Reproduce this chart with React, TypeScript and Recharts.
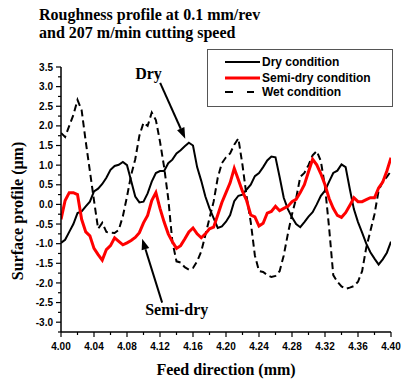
import React from "react";
import { LineChart, Line, XAxis, YAxis, Legend, ReferenceLine } from "recharts";

// Feed direction (mm)
const feed = [
  4.000, 4.005, 4.010, 4.015, 4.020, 4.025, 4.030, 4.035, 4.040, 4.045,
  4.050, 4.055, 4.060, 4.065, 4.070, 4.075, 4.080, 4.085, 4.090, 4.095,
  4.100, 4.105, 4.110, 4.115, 4.120, 4.125, 4.130, 4.135, 4.140, 4.145,
  4.150, 4.155, 4.160, 4.165, 4.170, 4.175, 4.180, 4.185, 4.190, 4.195,
  4.200, 4.205, 4.210, 4.215, 4.220, 4.225, 4.230, 4.235, 4.240, 4.245,
  4.250, 4.255, 4.260, 4.265, 4.270, 4.275, 4.280, 4.285, 4.290, 4.295,
  4.300, 4.305, 4.310, 4.315, 4.320, 4.325, 4.330, 4.335, 4.340, 4.345,
  4.350, 4.355, 4.360, 4.365, 4.370, 4.375, 4.380, 4.385, 4.390, 4.395,
  4.400,
];

const dry = [
  -0.98, -0.90, -0.70, -0.50, -0.22, -0.18, -0.05, 0.07, 0.33, 0.40,
  0.52, 0.68, 0.88, 0.98, 1.01, 1.08, 1.00, 0.60, 0.20, 0.05,
  0.07, 0.28, 0.58, 0.80, 0.85, 0.85, 1.05, 1.14, 1.30, 1.38,
  1.48, 1.57, 1.50, 0.95, 0.60, 0.20, -0.10, -0.35, -0.60, -0.56,
  -0.44, -0.27, 0.08, 0.22, 0.25, 0.38, 0.50, 0.72, 0.80, 0.95,
  1.12, 1.22, 1.20, 0.70, 0.17, -0.12, -0.33, -0.50, -0.58, -0.45,
  -0.31, -0.20, 0.00, 0.22, 0.35, 0.58, 0.80, 0.86, 1.02, 0.95,
  0.40, -0.12, -0.45, -0.72, -1.00, -1.22, -1.38, -1.53, -1.40, -1.23,
  -0.95,
];

const semiDry = [
  -0.38, 0.10, 0.30, 0.30, 0.25, -0.38, -0.70, -0.80, -1.12, -1.28,
  -1.42, -1.15, -1.05, -0.85, -0.94, -1.03, -0.98, -0.92, -0.84, -0.72,
  -0.47, -0.28, 0.10, 0.30, -0.10, -0.45, -0.75, -0.95, -1.12, -1.05,
  -0.88, -0.70, -0.60, -0.75, -0.85, -0.75, -0.62, -0.58, -0.27, 0.05,
  0.30, 0.55, 0.92, 0.63, 0.33, 0.10, -0.27, -0.32, -0.55, -0.48,
  -0.22, -0.18, -0.05, -0.16, -0.10, -0.05, 0.07, 0.13, 0.30, 0.50,
  0.83, 1.15, 1.01, 0.78, 0.50, 0.15, -0.10, -0.28, -0.33, -0.21,
  -0.03, 0.17, 0.07, 0.07, 0.12, 0.17, 0.17, 0.42, 0.57, 0.85,
  1.19,
];

const wet = [
  1.82, 1.72, 2.00, 2.28, 2.66, 2.40, 1.60, 0.85, 0.10, -0.62,
  -0.47, -0.70, -0.72, -0.73, -0.65, -0.30, 0.20, 0.75, 1.15, 1.75,
  2.08, 2.00, 2.34, 2.15, 1.60, 0.95, 0.15, -0.95, -1.45, -1.48,
  -1.60, -1.66, -1.62, -1.45, -1.20, -0.78, -0.35, 0.07, 0.68, 1.05,
  1.20, 1.30, 1.52, 1.68, 1.00, 0.20, -0.45, -1.30, -1.70, -1.72,
  -1.80, -1.85, -1.82, -1.70, -1.30, -0.75, -0.25, 0.15, 0.70, 0.80,
  1.00, 1.25, 1.36, 1.10, 0.45, -0.60, -1.80, -1.97, -2.09, -2.15,
  -2.12, -2.08, -1.97, -1.70, -1.10, -0.68, -0.25, 0.35, 0.58, 0.70,
  0.85,
];

const xTicks = [
  4.0, 4.02, 4.04, 4.06, 4.08, 4.1, 4.12, 4.14, 4.16, 4.18, 4.2,
  4.22, 4.24, 4.26, 4.28, 4.3, 4.32, 4.34, 4.36, 4.38, 4.4,
];
const xLabelTicks = [4.0, 4.04, 4.08, 4.12, 4.16, 4.2, 4.24, 4.28, 4.32, 4.36, 4.4];

const yTicks = [
  -3.25, -3.0, -2.75, -2.5, -2.25, -2.0, -1.75, -1.5, -1.25, -1.0, -0.75, -0.5, -0.25,
  0.0, 0.25, 0.5, 0.75, 1.0, 1.25, 1.5, 1.75, 2.0, 2.25, 2.5, 2.75, 3.0, 3.25, 3.5,
];
const yLabelTicks = [
  -3.0, -2.5, -2.0, -1.5, -1.0, -0.5, 0.0, 0.5, 1.0, 1.5, 2.0, 2.5, 3.0, 3.5,
];

const seriesNames = ["Dry condition", "Semi-dry condition", "Wet condition"];

const data = feed.map((x, i) => ({
  x,
  dry: dry[i],
  semiDry: semiDry[i],
  wet: wet[i],
}));

const SANS = "'Liberation Sans', Arial, sans-serif";
const SERIF = "'Liberation Serif', 'Times New Roman', serif";

const near = (v: number, list: number[]) => list.some((t) => Math.abs(t - v) < 1e-6);

const YTick = (props: any) => {
  const { x, y, payload } = props;
  const v = payload.value as number;
  const major = near(v, yLabelTicks);
  return (
    <g>
      <line x1={x} x2={x - (major ? 5 : 3)} y1={y} y2={y} stroke="#000" strokeWidth={1.2} />
      {major && (
        <text x={x - 8} y={y + 3.6} textAnchor="end" fontFamily={SANS} fontWeight="bold" fontSize={10} fill="#000">
          {v.toFixed(1)}
        </text>
      )}
    </g>
  );
};

const XTick = (props: any) => {
  const { x, y, payload } = props;
  const v = payload.value as number;
  const major = near(v, xLabelTicks);
  return (
    <g>
      <line x1={x} x2={x} y1={y} y2={y + (major ? 5 : 3)} stroke="#000" strokeWidth={1.2} />
      {major && (
        <text x={x} y={y + 17.5} textAnchor="middle" fontFamily={SANS} fontWeight="bold" fontSize={10} fill="#000">
          {v.toFixed(2)}
        </text>
      )}
    </g>
  );
};

const makeArrow = (label: string, dx: number, dy: number) => (p: any) => {
  const { x1, y1, x2, y2 } = p;
  const ang = Math.atan2(y2 - y1, x2 - x1);
  const L = 11;
  const W = 4;
  const bx = x2 - L * Math.cos(ang);
  const by = y2 - L * Math.sin(ang);
  const pts = `${x2},${y2} ${bx - W * Math.sin(ang)},${by + W * Math.cos(ang)} ${bx + W * Math.sin(ang)},${by - W * Math.cos(ang)}`;
  return (
    <g>
      <line x1={x1} y1={y1} x2={bx} y2={by} stroke="#000" strokeWidth={2} />
      <polygon points={pts} fill="#000" />
      <text x={x1 + dx} y={y1 + dy} fontFamily={SERIF} fontWeight="bold" fontSize={16} fill="#000">
        {label}
      </text>
    </g>
  );
};

const DryArrow = makeArrow("Dry", -25, -4);
const SemiArrow = makeArrow("Semi-dry", -17, 12);

const LegendBox = () => {
  const rows = [
    { y: 13, text: seriesNames[0], color: "#000", w: 2, dash: false },
    { y: 29, text: seriesNames[1], color: "#ff0000", w: 3, dash: false },
    { y: 43, text: seriesNames[2], color: "#000", w: 2, dash: true },
  ];
  return (
    <svg width={186} height={58} style={{ display: "block" }}>
      <rect x={0.5} y={0.5} width={185} height={57} fill="#fff" stroke="#555" strokeWidth={1} />
      {rows.map((r, i) => (
        <g key={i}>
          {r.dash ? (
            <>
              <line x1={18} x2={26} y1={r.y} y2={r.y} stroke={r.color} strokeWidth={r.w} />
              <line x1={40} x2={47} y1={r.y} y2={r.y} stroke={r.color} strokeWidth={r.w} />
            </>
          ) : (
            <line x1={18} x2={53} y1={r.y} y2={r.y} stroke={r.color} strokeWidth={r.w} />
          )}
          <text x={55} y={r.y + 4} fontFamily={SANS} fontWeight="bold" fontSize={12} fill="#000">
            {r.text}
          </text>
        </g>
      ))}
    </svg>
  );
};

export default function App() {
  return (
    <div style={{ position: "absolute", left: 0, top: 0, width: 401, height: 380, background: "#fff" }}>
      <LineChart width={401} height={380} data={data} margin={{ top: 67, right: 10, left: 0, bottom: 0 }}>
        <XAxis
          dataKey="x"
          type="number"
          domain={[4.0, 4.4]}
          ticks={xTicks}
          tick={<XTick />}
          tickLine={false}
          tickSize={0}
          tickMargin={0}
          interval={0}
          height={48}
          axisLine={{ stroke: "#000", strokeWidth: 1.5 }}
          allowDataOverflow
        />
        <YAxis
          type="number"
          domain={[-3.25, 3.5]}
          ticks={yTicks}
          tick={<YTick />}
          tickLine={false}
          tickSize={0}
          tickMargin={0}
          interval={0}
          width={61}
          axisLine={{ stroke: "#000", strokeWidth: 1.5 }}
          allowDataOverflow
        />
        <Legend
          verticalAlign="middle"
          content={() => <LegendBox />}
          wrapperStyle={{ position: "absolute", left: 207, top: 49, width: 186, height: 58 }}
        />
        <Line dataKey="wet" name={seriesNames[2]} stroke="#000" strokeWidth={2} strokeDasharray="7 4" dot={false} type="linear" isAnimationActive={false} />
        <Line dataKey="dry" name={seriesNames[0]} stroke="#000" strokeWidth={2} dot={false} type="linear" isAnimationActive={false} />
        <Line dataKey="semiDry" name={seriesNames[1]} stroke="#ff0000" strokeWidth={3} dot={false} type="linear" isAnimationActive={false} />
        <ReferenceLine segment={[{ x: 4.1202, y: 3.097 }, { x: 4.1506, y: 1.672 }]} ifOverflow="visible" shape={DryArrow} />
        <ReferenceLine segment={[{ x: 4.1226, y: -2.501 }, { x: 4.0984, y: -0.873 }]} ifOverflow="visible" shape={SemiArrow} />
      </LineChart>
      <svg width={401} height={380} style={{ position: "absolute", left: 0, top: 0, pointerEvents: "none" }}>
        <text x={39} y={20} fontFamily={SERIF} fontWeight="bold" fontSize={16} fill="#000">
          Roughness profile at 0.1 mm/rev
        </text>
        <text x={39} y={38} fontFamily={SERIF} fontWeight="bold" fontSize={16} fill="#000">
          and 207 m/min cutting speed
        </text>
        <text x={226} y={375} textAnchor="middle" fontFamily={SERIF} fontWeight="bold" fontSize={16} fill="#000">
          Feed direction (mm)
        </text>
        <text x={23} y={211} textAnchor="middle" transform="rotate(-90 23 211)" fontFamily={SERIF} fontWeight="bold" fontSize={16} fill="#000">
          Surface profile (μm)
        </text>
      </svg>
    </div>
  );
}
